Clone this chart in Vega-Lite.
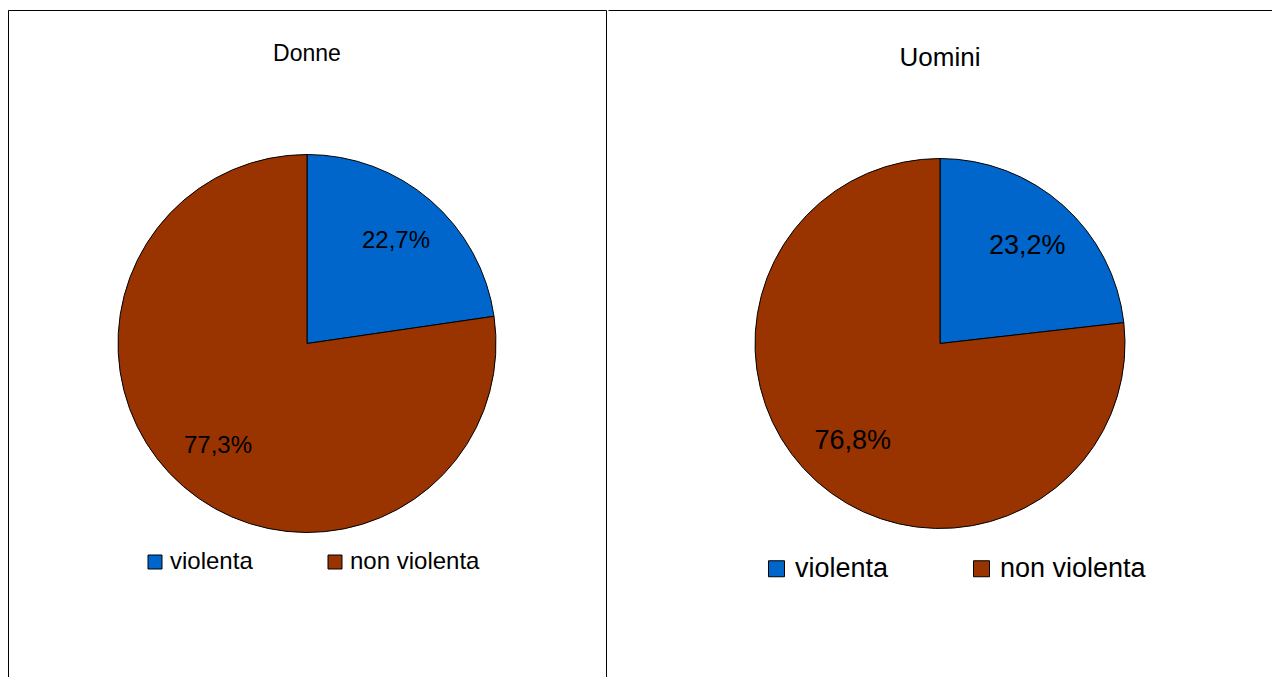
{
  "$schema": "https://vega.github.io/schema/vega-lite/v6.json",
  "padding": {"left": 7, "top": 9, "right": 0, "bottom": 0},
  "background": "white",
  "spacing": 0,
  "datasets": {
    "donne": [
      {"categoria": "violenta", "valore": 22.7, "etichetta": "22,7%"},
      {"categoria": "non violenta", "valore": 77.3, "etichetta": "77,3%"}
    ],
    "uomini": [
      {"categoria": "violenta", "valore": 23.2, "etichetta": "23,2%"},
      {"categoria": "non violenta", "valore": 76.8, "etichetta": "76,8%"}
    ]
  },
  "resolve": {"scale": {"color": "independent"}, "legend": {"color": "independent"}},
  "hconcat": [
    {
      "width": 598,
      "height": 667,
      "view": {"stroke": "black", "strokeWidth": 1, "strokeDash": [1265, 598, 667]},
      "title": {"text": "Donne", "fontSize": 23, "fontWeight": "normal", "color": "black", "anchor": "middle", "baseline": "alphabetic", "offset": -74},
      "data": {"name": "donne"},
      "layer": [
        {
          "mark": {"type": "arc", "outerRadius": 189, "stroke": "black", "strokeWidth": 1},
          "encoding": {
            "theta": {"field": "valore", "type": "quantitative", "stack": true},
            "order": {"field": "valore", "type": "quantitative", "sort": "ascending"},
            "color": {
              "field": "categoria", "type": "nominal",
              "scale": {"domain": ["violenta", "non violenta"], "range": ["#0066CC", "#993300"]},
              "legend": {
                "orient": "none", "legendX": 135, "legendY": 540, "direction": "horizontal", "title": null,
                "symbolType": "square", "symbolSize": 196, "symbolStrokeColor": "black", "symbolStrokeWidth": 1,
                "labelFontSize": 24, "labelColor": "black", "labelOffset": 3, "columnPadding": 70
              }
            }
          }
        },
        {
          "mark": {"type": "text", "radius": 136, "fontSize": 24, "color": "black", "align": "center", "baseline": "middle"},
          "encoding": {
            "theta": {"field": "valore", "type": "quantitative", "stack": true},
            "order": {"field": "valore", "type": "quantitative", "sort": "ascending"},
            "detail": {"field": "categoria", "type": "nominal"},
            "text": {"field": "etichetta", "type": "nominal"}
          }
        }
      ]
    },
    {
      "width": 664,
      "height": 667,
      "view": {"stroke": "black", "strokeWidth": 1, "strokeDash": [664, 1998]},
      "title": {"text": "Uomini", "fontSize": 26, "fontWeight": "normal", "color": "black", "anchor": "middle", "baseline": "alphabetic", "offset": -82},
      "data": {"name": "uomini"},
      "layer": [
        {
          "mark": {"type": "arc", "outerRadius": 185, "stroke": "black", "strokeWidth": 1},
          "encoding": {
            "theta": {"field": "valore", "type": "quantitative", "stack": true},
            "order": {"field": "valore", "type": "quantitative", "sort": "ascending"},
            "color": {
              "field": "categoria", "type": "nominal",
              "scale": {"domain": ["violenta", "non violenta"], "range": ["#0066CC", "#993300"]},
              "legend": {
                "orient": "none", "legendX": 155, "legendY": 545, "direction": "horizontal", "title": null,
                "symbolType": "square", "symbolSize": 256, "symbolStrokeColor": "black", "symbolStrokeWidth": 1,
                "labelFontSize": 27, "labelColor": "black", "labelOffset": 5, "columnPadding": 79
              }
            }
          }
        },
        {
          "mark": {"type": "text", "radius": 131, "fontSize": 27, "color": "black", "align": "center", "baseline": "middle"},
          "encoding": {
            "theta": {"field": "valore", "type": "quantitative", "stack": true},
            "order": {"field": "valore", "type": "quantitative", "sort": "ascending"},
            "detail": {"field": "categoria", "type": "nominal"},
            "text": {"field": "etichetta", "type": "nominal"}
          }
        }
      ]
    }
  ],
  "config": {
    "font": "Liberation Sans",
    "view": {"stroke": "black"}
  }
}
